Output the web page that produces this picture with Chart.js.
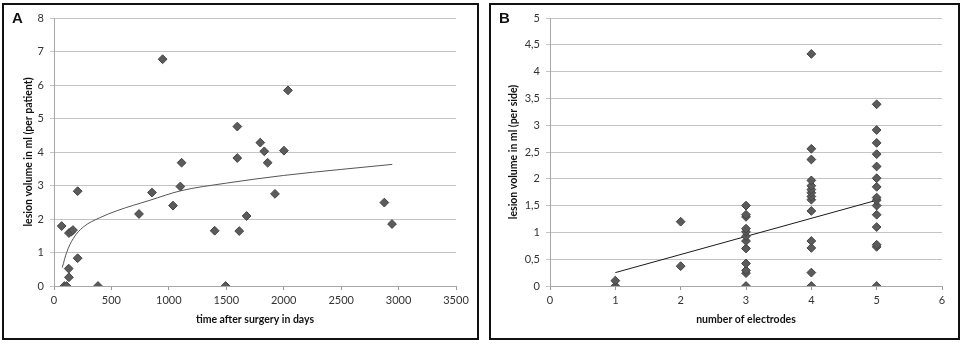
<!DOCTYPE html>
<html>
<head>
<meta charset="utf-8">
<script src="https://cdn.jsdelivr.net/npm/chart.js@4.4.0/dist/chart.umd.min.js"></script>
<style>
  html, body { margin: 0; padding: 0; background: #fff; }
  body { position: relative; width: 963px; height: 345px; overflow: hidden; }
  .panel { position: absolute; box-sizing: border-box; border: 2px solid #111; background: #fff; }
  .panel canvas { position: absolute; left: 0; top: 0; }
  .tag { position: absolute; font: bold 15px "Liberation Sans", Arial, sans-serif; line-height: 15px; color: #111; }
</style>
</head>
<body>
<div class="panel" style="left:2px;top:3px;width:477px;height:337px;">
  <canvas id="chartA" width="473" height="333"></canvas>
</div>
<div class="panel" style="left:489px;top:3px;width:471px;height:337px;">
  <canvas id="chartB" width="467" height="333"></canvas>
</div>
<div class="tag" style="left:12px;top:10px;">A</div>
<div class="tag" style="left:499px;top:10px;">B</div>
<script>
// Panel A : volume de lésion par patient vs temps après chirurgie
const daysA = [67, 90, 110, 128, 130, 130, 150, 165, 206, 206, 383, 740, 853, 946, 1036, 1100, 1111,
  1399, 1494, 1596, 1596, 1613, 1677, 1796, 1831, 1860, 1924, 2002, 2037, 2876, 2943];
const volumeA = [1.79, 0, 0, 0.52, 0.26, 1.58, 1.62, 1.67, 2.83, 0.83, 0, 2.15, 2.79, 6.77, 2.40, 2.97, 3.68,
  1.65, 0, 4.76, 3.82, 1.64, 2.09, 4.28, 4.02, 3.68, 2.75, 4.04, 5.84, 2.49, 1.85];
// courbe de tendance (log)
const trendDaysA = [72, 110, 168, 255, 400, 550, 836, 1100, 1500, 2000, 2500, 2945];
const trendVolA = [0.55, 1.0, 1.42, 1.76, 2.04, 2.25, 2.56, 2.84, 3.07, 3.30, 3.48, 3.63];
const xTicksA = { min: 0, max: 3500, step: 500 };
const yTicksA = { min: 0, max: 8, step: 1 };

// Panel B : volume par côté vs nombre d'électrodes
const electrodesB = [1, 1,
  2, 2,
  3, 3, 3, 3, 3, 3, 3, 3, 3, 3, 3, 3,
  4, 4, 4, 4, 4, 4, 4, 4, 4, 4, 4, 4, 4, 4,
  5, 5, 5, 5, 5, 5, 5, 5, 5, 5, 5, 5, 5, 5, 5];
const volumeB = [0, 0.1,
  0.37, 1.2,
  0, 0.24, 0.29, 0.42, 0.70, 0.84, 0.93, 1.01, 1.07, 1.29, 1.33, 1.50,
  0, 0.25, 0.71, 0.84, 1.40, 1.61, 1.67, 1.74, 1.80, 1.87, 1.97, 2.36, 2.56, 4.33,
  0, 0.73, 0.77, 1.10, 1.33, 1.50, 1.60, 1.65, 1.85, 2.01, 2.23, 2.46, 2.67, 2.91, 3.39];
const trendElectrodesB = [1, 5];
const trendVolB = [0.25, 1.60];
const xTicksB = { min: 0, max: 6, step: 1 };
const yTicksB = { min: 0, max: 5, step: 0.5 };

Chart.defaults.font.family = 'Lato, "Open Sans", sans-serif';
Chart.defaults.color = '#333';

const toPoints = (xs, ys) => xs.map((x, i) => ({ x, y: ys[i] }));
const comma = (v) => String(v).replace('.', ',');

const markerStyle = {
  pointStyle: 'rectRot',
  pointRadius: 4.4,
  pointHoverRadius: 4.4,
  pointBackgroundColor: '#5b5b5b',
  pointBorderColor: '#444',
  pointBorderWidth: 1,
  showLine: false
};

function makeChart(canvas, opt) {
  return new Chart(canvas, {
    type: 'scatter',
    data: {
      datasets: [
        {
          label: 'trend',
          data: opt.trend,
          showLine: true,
          pointRadius: 0,
          borderColor: opt.trendColor,
          borderWidth: 1,
          cubicInterpolationMode: 'monotone',
          order: 1
        },
        Object.assign({ label: 'volume', data: opt.points, order: 0 }, markerStyle)
      ]
    },
    options: {
      responsive: false,
      devicePixelRatio: 1,
      animation: false,
      events: [],
      layout: { padding: { left: 0, top: 13, right: opt.rightPad, bottom: 0 } },
      plugins: { legend: { display: false }, tooltip: { enabled: false } },
      scales: {
        x: {
          type: 'linear',
          min: opt.xt.min,
          max: opt.xt.max,
          afterFit: (s) => { s.height = 52; },
          grid: { drawOnChartArea: false, drawTicks: true, tickLength: 4, color: '#9a9a9a' },
          border: { display: true, color: '#a8a8a8' },
          ticks: {
            stepSize: opt.xt.step,
            padding: 4,
            maxRotation: 0,
            autoSkip: false,
            font: { size: 11 },
            callback: (v) => String(v)
          },
          title: {
            display: true,
            text: opt.xTitle,
            color: '#111',
            font: { size: 10.5, weight: 'bold' },
            padding: { top: 0, bottom: 12 }
          }
        },
        y: {
          type: 'linear',
          min: opt.yt.min,
          max: opt.yt.max,
          afterFit: (s) => { s.width = opt.yWidth; },
          grid: { color: '#c4c4c4', tickLength: 4, drawTicks: true },
          border: { display: true, color: '#a8a8a8' },
          ticks: {
            stepSize: opt.yt.step,
            padding: 6,
            font: { size: 11 },
            callback: opt.yFmt
          },
          title: {
            display: true,
            text: opt.yTitle,
            color: '#111',
            font: { size: 10.5, weight: 'bold' },
            padding: { top: opt.yTitlePad, bottom: 0 }
          }
        }
      }
    }
  });
}

makeChart(document.getElementById('chartA'), {
  points: toPoints(daysA, volumeA),
  trend: toPoints(trendDaysA, trendVolA),
  trendColor: '#555',
  xt: xTicksA,
  yt: yTicksA,
  xTitle: 'time after surgery in days',
  yTitle: 'lesion volume in ml (per patient)',
  yWidth: 50,
  yTitlePad: 18.5,
  rightPad: 21,
  yFmt: (v) => String(v)
});

makeChart(document.getElementById('chartB'), {
  points: toPoints(electrodesB, volumeB),
  trend: toPoints(trendElectrodesB, trendVolB),
  trendColor: '#1a1a1a',
  xt: xTicksB,
  yt: yTicksB,
  xTitle: 'number of electrodes',
  yTitle: 'lesion volume in ml (per side)',
  yWidth: 59,
  yTitlePad: 16.5,
  rightPad: 16,
  yFmt: (v) => comma(v)
});
</script>
</body>
</html>
